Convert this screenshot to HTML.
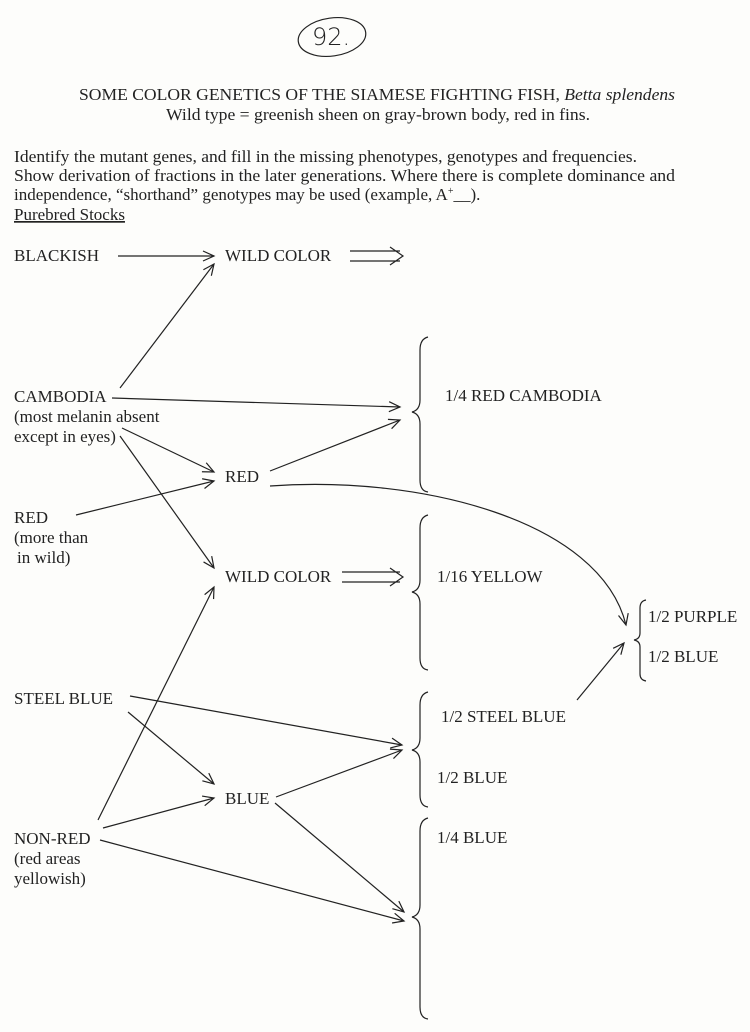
<!DOCTYPE html>
<html><head><meta charset="utf-8"><style>
html,body{margin:0;padding:0;background:#fdfdfb;}
svg{display:block;}
text{font-family:"Liberation Serif",serif;font-size:17px;fill:#222;}
.l{stroke:#222;stroke-width:1.2;fill:none;}
</style></head><body>
<svg width="750" height="1032" viewBox="0 0 750 1032" xmlns="http://www.w3.org/2000/svg">
<defs><marker id="a" markerWidth="14" markerHeight="12" refX="12" refY="6" orient="auto" markerUnits="userSpaceOnUse"><path d="M1,1 L12,6 L1,11" fill="none" stroke="#222" stroke-width="1.2"/></marker></defs>
<ellipse cx="332" cy="37" rx="34" ry="19" class="l" transform="rotate(-8 332 37)"/>
<text x="312" y="45" style="font-size:24px;font-family:'DejaVu Sans',sans-serif;font-weight:200">92.</text>
<text x="79" y="100" textLength="596" lengthAdjust="spacingAndGlyphs">SOME COLOR GENETICS OF THE SIAMESE FIGHTING FISH, <tspan font-style="italic">Betta splendens</tspan></text>
<text x="166" y="120" textLength="424" lengthAdjust="spacingAndGlyphs">Wild type = greenish sheen on gray-brown body, red in fins.</text>
<text x="14" y="162" textLength="623" lengthAdjust="spacingAndGlyphs">Identify the mutant genes, and fill in the missing phenotypes, genotypes and frequencies.</text>
<text x="14" y="181" textLength="661" lengthAdjust="spacingAndGlyphs">Show derivation of fractions in the later generations.  Where there is complete dominance and</text>
<text x="14" y="200">independence, “shorthand” genotypes may be used (example,  A<tspan dy="-6" font-size="10">+</tspan><tspan dy="6">__).</tspan></text>
<text x="14" y="220" text-decoration="underline">Purebred Stocks</text>
<text x="14" y="261">BLACKISH</text>
<text x="225" y="261">WILD  COLOR</text>
<text x="14" y="402">CAMBODIA</text>
<text x="14" y="422">(most melanin absent</text>
<text x="14" y="442">except in eyes)</text>
<text x="225" y="482">RED</text>
<text x="14" y="523">RED</text>
<text x="14" y="543">(more than</text>
<text x="17" y="563">in wild)</text>
<text x="225" y="582">WILD COLOR</text>
<text x="14" y="704">STEEL BLUE</text>
<text x="225" y="804">BLUE</text>
<text x="14" y="844">NON-RED</text>
<text x="14" y="864">(red areas</text>
<text x="14" y="884">yellowish)</text>
<text x="445" y="401">1/4 RED CAMBODIA</text>
<text x="437" y="582">1/16 YELLOW</text>
<text x="441" y="722">1/2 STEEL BLUE</text>
<text x="437" y="783">1/2  BLUE</text>
<text x="437" y="843">1/4  BLUE</text>
<text x="648" y="622">1/2 PURPLE</text>
<text x="648" y="662">1/2 BLUE</text>
<g class="l">
<line x1="118" y1="256" x2="214" y2="256" marker-end="url(#a)"/>
<path d="M350 251 H400 M350 261 H400 M390 247 L403 256 L390 265"/>
<line x1="120" y1="388" x2="214" y2="264" marker-end="url(#a)"/>
<line x1="112" y1="398" x2="400" y2="407" marker-end="url(#a)"/>
<line x1="122" y1="428" x2="214" y2="472" marker-end="url(#a)"/>
<line x1="120" y1="436" x2="214" y2="568" marker-end="url(#a)"/>
<line x1="76" y1="515" x2="214" y2="481" marker-end="url(#a)"/>
<line x1="270" y1="471" x2="400" y2="420" marker-end="url(#a)"/>
<path d="M270 486 C420 475 600 520 626 625" marker-end="url(#a)"/>
<path d="M342 572 H400 M342 582 H400 M390 568 L403 577 L390 586"/>
<line x1="577" y1="700" x2="624" y2="643" marker-end="url(#a)"/>
<line x1="130" y1="696" x2="402" y2="745" marker-end="url(#a)"/>
<line x1="128" y1="712" x2="214" y2="784" marker-end="url(#a)"/>
<line x1="103" y1="828" x2="214" y2="798" marker-end="url(#a)"/>
<line x1="98" y1="820" x2="214" y2="587" marker-end="url(#a)"/>
<line x1="276" y1="797" x2="402" y2="750" marker-end="url(#a)"/>
<line x1="275" y1="803" x2="404" y2="912" marker-end="url(#a)"/>
<line x1="100" y1="840" x2="404" y2="921" marker-end="url(#a)"/>
<path d="M428 337 Q420 339 420 350 V400 Q420 410 412 412 Q420 414 420 424 V480 Q420 491 428 492"/>
<path d="M428 515 Q420 517 420 528 V580 Q420 590 412 592 Q420 594 420 604 V658 Q420 669 428 670"/>
<path d="M428 692 Q420 694 420 705 V738 Q420 748 412 750 Q420 752 420 762 V795 Q420 806 428 807"/>
<path d="M428 818 Q420 820 420 831 V905 Q420 915 412 917 Q420 919 420 929 V1007 Q420 1018 428 1019"/>
<path d="M646 600 Q640 601 640 608 V633 Q640 639 634 640 Q640 641 640 647 V674 Q640 680 646 681"/>
</g>
</svg>
</body></html>
